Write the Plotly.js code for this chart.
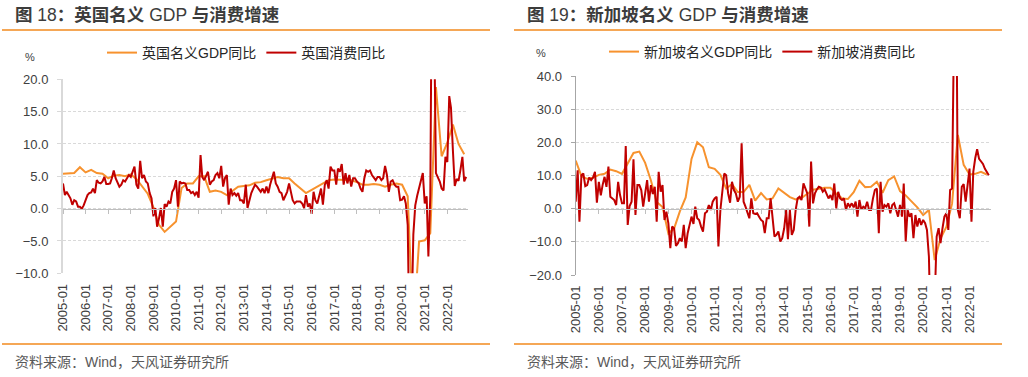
<!DOCTYPE html>
<html><head><meta charset="utf-8">
<script src="https://cdn.plot.ly/plotly-3.0.1.min.js"></script>
<style>html,body{margin:0;padding:0;background:#fff;}#chart{width:1028px;height:377px;}</style>
</head><body><div id="chart"></div>
<script>
// ---------- data ----------
const tickLabels = ['2005-01','2006-01','2007-01','2008-01','2009-01','2010-01','2011-01','2012-01','2013-01','2014-01','2015-01','2016-01','2017-01','2018-01','2019-01','2020-01','2021-01','2022-01'];

// UK monthly consumption YoY, 2005-01 .. 2022-11
const ukCons = [
3.9,2.1,2.6,2.1,1.6,0.6,1.3,1.1,0.3,0.3,0.0,0.5,
1.3,2.1,2.4,2.5,3.1,2.4,4.4,4.0,3.9,4.2,4.9,3.8,
3.8,3.9,4.7,5.9,4.7,4.0,3.4,3.7,4.4,4.2,4.7,5.2,
4.9,5.7,6.5,3.7,3.1,7.4,4.7,5.2,4.2,3.9,2.4,1.6,
-1.2,0.1,-2.8,-1.5,0.1,-2.8,0.7,0.3,1.1,0.8,2.6,3.1,
4.4,0.3,4.2,3.9,4.0,3.9,2.9,2.9,2.4,2.6,2.1,2.6,
1.7,8.3,4.9,4.4,5.2,5.7,3.7,4.2,4.4,5.2,5.5,4.7,
6.6,3.4,4.7,5.2,0.6,3.1,2.1,2.4,2.0,2.4,1.3,1.3,
0.8,3.7,0.1,1.3,2.4,3.1,3.7,3.4,2.9,2.6,3.1,2.4,
3.4,2.4,3.7,4.7,5.7,3.9,3.4,2.6,2.4,1.3,1.9,2.6,
3.9,2.6,1.3,0.8,1.1,1.1,1.1,0.8,0.1,2.1,0.3,0.8,
-0.8,2.6,1.3,0.8,1.9,3.1,0.6,3.7,4.4,3.1,6.5,5.9,
5.9,3.7,6.2,5.7,6.9,3.7,5.5,3.9,5.2,3.4,4.7,4.7,
4.2,3.9,3.1,2.6,4.7,5.9,5.7,5.9,5.2,4.7,4.4,4.9,
4.9,4.4,4.7,6.6,5.2,2.6,4.2,4.4,3.7,3.4,3.4,1.3,
1.4,1.9,0.8,-2.5,-22,-18,-4,0.5,2.0,3.2,4.5,5.5,
0.8,1.9,-7.4,2.0,45,30,5.5,4.9,4.2,3.1,2.8,8.0,
7.2,17.4,15.6,9.0,3.5,4.6,4.3,6.0,8.0,4.2,4.9
];
// UK nominal GDP YoY, quarterly 2005Q1 .. 2022Q4
const ukGdp = [
5.4,5.5,5.5,6.4, 5.6,6.0,5.5,5.4, 4.7,5.1,5.2,5.0, 5.3,4.6,3.5,2.3,
0.2,-2.5,-3.6,-2.8, -2.0,3.2,3.9,3.9, 5.0,5.0,2.6,2.8, 2.6,2.1,2.7,3.4,
3.5,3.6,4.0,4.1, 4.4,4.6,4.9,4.7, 4.7,3.9,3.2,2.4, 2.9,3.4,3.8,4.4,
4.5,4.5,4.5,4.4, 4.1,3.7,3.7,3.8, 3.7,3.4,3.7,3.9, 3.7,1.9,-19,-5.1,
-4.9,-3.8,18.8,8.1, 10.2,13.0,10.0,8.4
];
// Singapore monthly consumption YoY
const sgCons = [
2.1,11.6,-3.9,10.1,10.6,6.8,7.1,9.4,8.6,9.4,11.1,1.8,
8.1,4.0,7.1,9.6,6.6,12.7,3.6,3.1,2.6,1.1,8.1,4.1,
1.6,1.6,18.9,-4.9,0.8,2.1,14.9,-1.9,7.1,7.1,5.6,0.6,
4.1,8.6,2.1,7.1,4.4,6.6,-3.9,11.1,5.1,7.1,-3.4,-0.9,
-4.4,-11.9,-5.4,-5.9,-11.2,-10.4,-8.9,-9.9,-4.9,-11.9,-7.4,-4.4,
-2.4,-4.6,0.6,-2.9,-3.4,-5.4,-6.9,-1.4,-0.9,1.1,-0.4,2.1,
3.1,3.6,-11.4,-0.4,6.1,10.6,10.1,4.6,1.8,8.1,5.6,4.6,
2.1,3.6,19.7,2.1,0.6,-0.9,-2.9,3.1,-1.4,-1.6,-1.4,-2.4,
-3.4,-3.9,-7.4,-2.9,-2.9,3.1,-2.4,-8.4,-7.9,-6.9,-9.9,-8.9,
-5.9,-0.4,-9.2,-0.4,-7.9,-6.4,-0.4,3.1,3.6,2.6,7.6,6.1,
4.6,-5.4,14.2,1.6,4.6,5.8,6.6,6.4,5.1,5.8,4.1,3.1,
4.1,2.6,7.6,0.1,5.1,3.1,2.6,3.1,-0.4,1.6,0.6,1.6,
0.4,2.1,-2.4,2.6,-0.2,0.6,0.1,2.1,-0.4,-0.4,3.1,5.6,
6.1,-7.4,8.1,-0.9,1.1,0.6,1.6,-1.4,1.1,1.6,-0.4,-2.4,
1.1,-2.4,7.6,-9.9,-0.4,-2.4,-1.4,-8.9,-1.9,-5.4,-2.9,-4.9,
-3.4,-4.4,-6.4,-14.5,-40,-52,-28,-8.4,-5.9,-10.4,-5.9,-2.4,
-1.4,-6.4,5.6,6.1,54,86,-0.4,-2.9,6.6,7.4,2.1,8.1,
12.1,-3.9,11.0,15.2,17.9,15.0,14.2,13.5,12.0,11.0,10.1
];
// Singapore nominal GDP YoY, quarterly
const sgGdp = [
14.5,9.8,9.0,9.3, 10.2,10.5,11.8,11.3, 10.5,13.8,16.8,17.2, 13.8,8.5,2.0,0.5,
-7.5,-6.0,-0.8,3.4, 15.0,20.0,18.5,12.5, 12.0,10.2,6.1,7.4, 5.0,5.0,7.2,2.4,
4.7,2.8,3.1,6.1, 4.7,3.5,2.8,3.2, 4.5,5.7,6.0,6.3, 6.3,4.5,3.1,2.9,
5.0,8.4,6.5,6.6, 8.1,4.8,8.6,9.7, 5.3,4.0,2.2,0.4, -1.9,-0.4,-15.5,-9.0,
-5.5,1.5,22.2,13.2, 10.3,10.5,11.1,10.3
];

// ---------- dates ----------
function monthDates(n){const a=[];for(let i=0;i<n;i++){const y=2005+Math.floor(i/12),m=i%12+1;a.push(y+'-'+String(m).padStart(2,'0')+'-01');}return a;}
const monthsUK = monthDates(ukCons.length);
const monthsSG = monthDates(sgCons.length);
const qUK = monthDates(ukGdp.length*3).filter((d,i)=>i%3===0);
const qSG = monthDates(sgGdp.length*3).filter((d,i)=>i%3===0);
const tickDates = tickLabels.map(s=>s+'-01');

// ---------- style ----------
const W=1028,H=377;
const X=p=>p/W, Y=p=>1-p/H;
const FONT='"Liberation Sans", Arial, "Noto Sans CJK SC", sans-serif';
const ORANGE='#F7922E', RED='#C00000', SEP='#F28A1E';
const range=['2005-01-01','2022-12-01'];

const traces=[
 {x:qUK,y:ukGdp,name:'英国名义GDP同比',type:'scatter',mode:'lines',line:{color:ORANGE,width:2},xaxis:'x',yaxis:'y',legend:'legend'},
 {x:monthsUK,y:ukCons,name:'英国消费同比',type:'scatter',mode:'lines',line:{color:RED,width:2},xaxis:'x',yaxis:'y',legend:'legend'},
 {x:qSG,y:sgGdp,name:'新加坡名义GDP同比',type:'scatter',mode:'lines',line:{color:ORANGE,width:2},xaxis:'x2',yaxis:'y2',legend:'legend2'},
 {x:monthsSG,y:sgCons,name:'新加坡消费同比',type:'scatter',mode:'lines',line:{color:RED,width:2},xaxis:'x2',yaxis:'y2',legend:'legend2'},
 {x:[],y:[],type:'scatter',xaxis:'x3',yaxis:'y',showlegend:false,hoverinfo:'skip'},
 {x:[],y:[],type:'scatter',xaxis:'x4',yaxis:'y2',showlegend:false,hoverinfo:'skip'}
];

const xBase={type:'date',range:range,tickvals:tickDates,ticktext:tickLabels,tickangle:-90,
  tickfont:{family:FONT,size:13,color:'#404040'},ticks:'',showgrid:false,zeroline:false,showline:false,
  ticklabelstandoff:7,fixedrange:true};
const zeroBase={type:'date',range:range,tickvals:tickDates,showticklabels:false,ticks:'outside',ticklen:4,
  tickcolor:'#bfbfbf',tickwidth:1,showline:true,linecolor:'#bfbfbf',linewidth:1.5,showgrid:false,zeroline:false,anchor:'free'};
const yBase={tickformat:'.1f',tickfont:{family:FONT,size:13,color:'#404040'},gridcolor:'#d9d9d9',griddash:'3px,2px',
  gridwidth:1,showline:true,ticks:'outside',ticklen:4,zeroline:false,ticklabelstandoff:6,fixedrange:true};

const layout={
 width:W,height:H,margin:{l:0,r:0,t:0,b:0},paper_bgcolor:'#fff',plot_bgcolor:'#fff',
 font:{family:FONT,color:'#404040'},
 xaxis:Object.assign({},xBase,{domain:[X(63),X(468)],anchor:'y'}),
 yaxis:Object.assign({},yBase,{domain:[Y(273.3),Y(79.3)],range:[-10,20],dtick:5,anchor:'x',linecolor:'#d9d9d9',linewidth:2,tickcolor:'#d9d9d9'}),
 xaxis2:Object.assign({},xBase,{domain:[X(575.7),X(990.7)],anchor:'y2'}),
 yaxis2:Object.assign({},yBase,{domain:[Y(275),Y(76)],range:[-20,40],dtick:10,anchor:'x2',linecolor:'#a6a6a6',linewidth:1,tickcolor:'#a6a6a6'}),
 xaxis3:Object.assign({},zeroBase,{overlaying:'x',position:Y(208.7)}),
 xaxis4:Object.assign({},zeroBase,{overlaying:'x2',position:Y(208.7)}),
 legend:{orientation:'h',x:X(102),y:Y(53),xanchor:'left',yanchor:'middle',font:{family:FONT,size:14,color:'#262626'},bgcolor:'rgba(0,0,0,0)',itemwidth:30},
 legend2:{orientation:'h',x:X(604),y:Y(52),xanchor:'left',yanchor:'middle',font:{family:FONT,size:14,color:'#262626'},bgcolor:'rgba(0,0,0,0)',itemwidth:30},
 shapes:[
  {type:'line',xref:'paper',yref:'paper',x0:X(2),x1:X(490),y0:Y(30),y1:Y(30),line:{color:SEP,width:1.5}},
  {type:'line',xref:'paper',yref:'paper',x0:X(2),x1:X(490),y0:Y(344),y1:Y(344),line:{color:SEP,width:1.5}},
  {type:'line',xref:'paper',yref:'paper',x0:X(514),x1:X(1002),y0:Y(30),y1:Y(30),line:{color:SEP,width:1.5}},
  {type:'line',xref:'paper',yref:'paper',x0:X(514),x1:X(1002),y0:Y(344),y1:Y(344),line:{color:SEP,width:1.5}}
 ],
 annotations:[
  {text:'<b>图</b> 18<b>：英国名义</b> GDP <b>与消费增速</b>',xref:'paper',yref:'paper',x:X(13),y:Y(15),xanchor:'left',yanchor:'middle',showarrow:false,font:{family:FONT,size:17.5,color:'#3c3c3c'}},
  {text:'<b>图</b> 19<b>：新加坡名义</b> GDP <b>与消费增速</b>',xref:'paper',yref:'paper',x:X(525),y:Y(15),xanchor:'left',yanchor:'middle',showarrow:false,font:{family:FONT,size:17.5,color:'#3c3c3c'}},
  {text:'资料来源：Wind，天风证券研究所',xref:'paper',yref:'paper',x:X(13),y:Y(362),xanchor:'left',yanchor:'middle',showarrow:false,font:{family:FONT,size:14,color:'#595959'}},
  {text:'资料来源：Wind，天风证券研究所',xref:'paper',yref:'paper',x:X(525),y:Y(362),xanchor:'left',yanchor:'middle',showarrow:false,font:{family:FONT,size:14,color:'#595959'}},
  {text:'%',xref:'paper',yref:'paper',x:X(30),y:Y(57),xanchor:'center',yanchor:'middle',showarrow:false,font:{family:FONT,size:11,color:'#404040'}},
  {text:'%',xref:'paper',yref:'paper',x:X(541),y:Y(53),xanchor:'center',yanchor:'middle',showarrow:false,font:{family:FONT,size:11,color:'#404040'}}
 ]
};
Plotly.newPlot('chart',traces,layout,{displayModeBar:false,staticPlot:true});
</script></body></html>
